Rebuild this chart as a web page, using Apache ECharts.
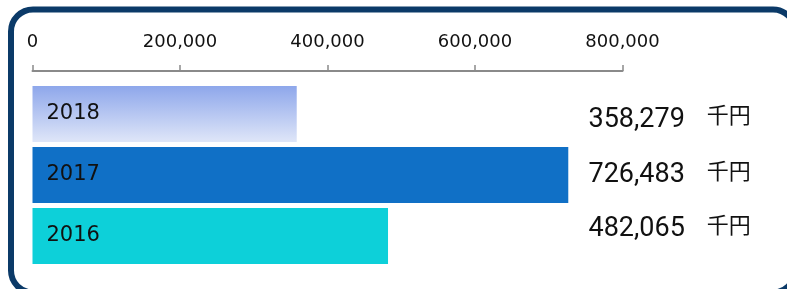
<!DOCTYPE html>
<html>
<head>
<meta charset="utf-8">
<script src="https://cdn.jsdelivr.net/npm/echarts@6/dist/echarts.min.js"></script>
<style>
  html, body { margin: 0; padding: 0; background: #fff; }
  #chart { width: 787px; height: 289px; }
</style>
</head>
<body>
<div id="chart"></div>
<script>
// data
const years = ['2018', '2017', '2016']
const amounts = [358279, 726483, 482065]
const unit = '千円'
const xTicks = [0, 200000, 400000, 600000, 800000]

const myChart = echarts.init(document.getElementById('chart'))

// bar colours, first one is a soft gradient
const barColors = [
  new echarts.graphic.LinearGradient(0, 0, 0, 1, [
    { offset: 0, color: '#8ea7eb' },
    { offset: 1, color: '#dfe6f8' }
  ]),
  '#1070c6',
  '#0dd0d9'
]

const numStyle = { fontFamily: 'Roboto', fontSize: 27, color: '#111', verticalAlign: 'middle' }
const unitStyle = { fontFamily: 'Noto Sans CJK JP', fontSize: 22, color: '#111', verticalAlign: 'middle' }

const option = {
  backgroundColor: '#fff',
  animation: false,
  graphic: [
    {
      type: 'rect',
      shape: { x: 11, y: 9.5, width: 784, height: 283, r: 22 },
      style: { fill: 'none', stroke: '#0b3a68', lineWidth: 6 },
      z: 100
    }
  ],
  grid: {
    left: 32.5,
    right: 164.5,
    top: 83.5,
    bottom: 22.5
  },
  xAxis: {
    type: 'value',
    position: 'top',
    offset: 12.5,
    min: xTicks[0],
    max: xTicks[xTicks.length - 1],
    interval: xTicks[1] - xTicks[0],
    splitLine: { show: false },
    axisLine: { show: true, lineStyle: { color: '#8a8a8a', width: 2 } },
    axisTick: { show: true, length: 6, lineStyle: { color: '#8a8a8a', width: 1.5 } },
    axisLabel: {
      margin: 20,
      color: '#111',
      fontFamily: 'DejaVu Sans',
      fontSize: 18,
      formatter: (v) => v.toLocaleString('en-US')
    }
  },
  yAxis: [
    {
      type: 'category',
      data: years,
      inverse: true,
      axisLine: { show: false },
      axisTick: { show: false },
      axisLabel: { show: false }
    },
    {
      type: 'category',
      position: 'right',
      data: amounts.map((v) => v.toLocaleString('en-US')),
      inverse: true,
      axisLine: { show: false },
      axisTick: { show: false },
      axisLabel: {
        margin: -34,
        align: 'left',
        formatter: (v, i) => `{n${i}|${v}}{u${i}|${unit}}`,
        rich: {
          n0: { ...numStyle, padding: [12, 0, 0, 0] },
          u0: { ...unitStyle, padding: [2, 0, 0, 22] },
          n1: { ...numStyle },
          u1: { ...unitStyle, padding: [0, 0, 8, 22] },
          n2: { ...numStyle, padding: [0, 0, 14, 0] },
          u2: { ...unitStyle, padding: [0, 0, 22, 22] }
        }
      }
    }
  ],
  series: [
    {
      type: 'bar',
      yAxisIndex: 0,
      data: amounts,
      barWidth: 56,
      itemStyle: {
        color: (p) => barColors[p.dataIndex]
      },
      label: {
        show: true,
        position: 'insideLeft',
        distance: 14,
        formatter: '{b}',
        color: '#111',
        fontFamily: 'DejaVu Sans',
        fontSize: 21
      }
    }
  ]
}
option && myChart.setOption(option)
</script>
</body>
</html>
